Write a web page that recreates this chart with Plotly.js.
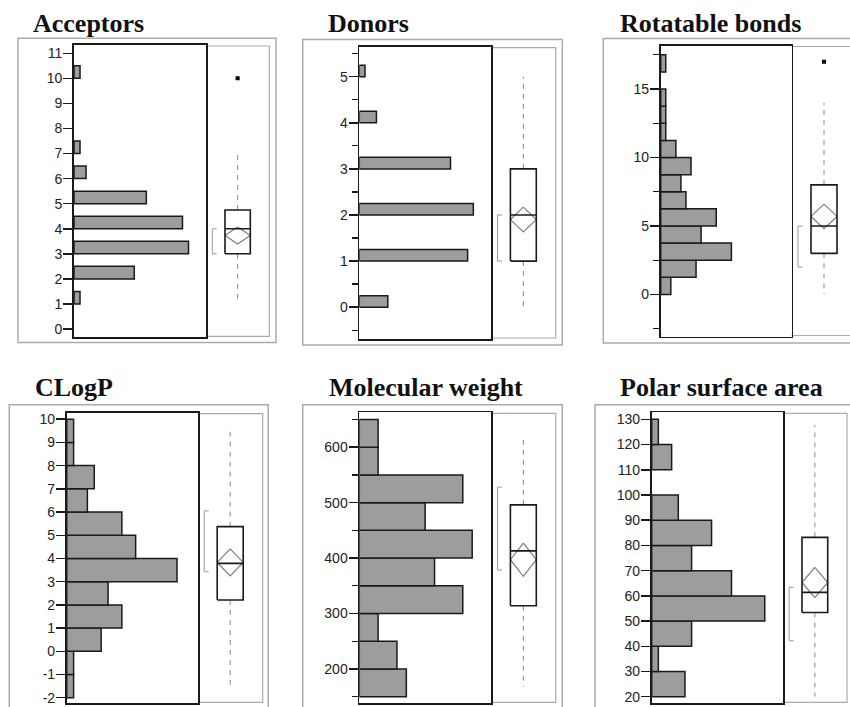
<!DOCTYPE html>
<html>
<head>
<meta charset="utf-8">
<script src="https://cdn.plot.ly/plotly-3.0.1.min.js"></script>
<style>
  html, body { margin: 0; padding: 0; background: #fff; }
  #chart { width: 850px; height: 707px; }
</style>
</head>
<body>
<div id="chart"></div>
<script>
// ---- Panel titles ----
const titles = ['Acceptors', 'Donors', 'Rotatable bonds', 'CLogP', 'Molecular weight', 'Polar surface area'];

// ---- Histogram bins (lower edge of each bar) and counts ----
const acceptorBins = [1, 2, 3, 4, 5, 6, 7, 10];
const acceptorCounts = [1, 10, 19, 18, 12, 2, 1, 1];
const donorBins = [0, 1, 2, 3, 4, 5];
const donorCounts = [5, 19, 20, 16, 3, 1];
const rotBins = [0, 1.25, 2.5, 3.75, 5, 6.25, 7.5, 8.75, 10, 11.25, 12.5, 13.75, 16.25];
const rotCounts = [2, 7, 14, 8, 11, 5, 4, 6, 3, 1, 1, 1, 1];
const clogpBins = [-2, -1, 0, 1, 2, 3, 4, 5, 6, 7, 8, 9];
const clogpCounts = [1, 1, 5, 8, 6, 16, 10, 8, 3, 4, 1, 1];
const mwBins = [150, 200, 250, 300, 350, 400, 450, 500, 550, 600];
const mwCounts = [5, 4, 2, 11, 8, 12, 7, 11, 2, 2];
const psaBins = [20, 30, 40, 50, 60, 70, 80, 90, 110, 120];
const psaCounts = [5, 1, 6, 17, 12, 6, 9, 4, 3, 1];
const binWidths = [0.5, 0.25, 1.25, 1, 50, 10];

// ---- Axis tick labels ----
const acceptorTicks = [0, 1, 2, 3, 4, 5, 6, 7, 8, 9, 10, 11];
const donorTicks = [0, 1, 2, 3, 4, 5];
const donorMinorTicks = [-0.5, 0.5, 1.5, 2.5, 3.5, 4.5, 5.5];
const rotTicks = [0, 5, 10, 15];
const rotMinorTicks = [-2.5, 2.5, 7.5, 12.5, 17.5];
const clogpTicks = [-2, -1, 0, 1, 2, 3, 4, 5, 6, 7, 8, 9, 10];
const clogpTickText = ['-2', '-1', '0', '1', '2', '3', '4', '5', '6', '7', '8', '9', '10'];
const mwTicks = [200, 300, 400, 500, 600];
const mwMinorTicks = [150, 250, 350, 450, 550, 650];
const psaTicks = [20, 30, 40, 50, 60, 70, 80, 90, 100, 110, 120, 130];

// ---- Box plot summaries (one entry per panel) ----
const whiskerLow = [1, 0, 0, -1.45, 168, 20];
const quartile1 = [3, 1, 3, 2.21, 314, 53.4];
const medians = [4, 2, 5, 3.79, 413, 61.4];
const quartile3 = [4.75, 3, 8, 5.37, 496, 83.2];
const whiskerHigh = [7, 5, 14, 9.66, 622, 127.7];
const means = [3.73, 1.9, 5.7, 3.83, 397, 65.3];
const meanCI = [0.34, 0.27, 0.9, 0.58, 30, 6];
const shortestHalfLow = [3, 1, 2, 3.43, 378.5, 42.2];
const shortestHalfHigh = [4, 2, 5, 6.05, 528, 63.4];
const outliers = [[10], [], [17], [], [], []];

// ---- Assemble per-panel inputs ----
const binsAll = [acceptorBins, donorBins, rotBins, clogpBins, mwBins, psaBins];
const countsAll = [acceptorCounts, donorCounts, rotCounts, clogpCounts, mwCounts, psaCounts];
const majorTicks = [acceptorTicks, donorTicks, rotTicks, clogpTicks, mwTicks, psaTicks];
const majorText = [null, null, null, clogpTickText, null, null];
const minorTicks = [null, donorMinorTicks, rotMinorTicks, null, mwMinorTicks, null];

// ---- Page geometry (pixels) ----
const W = 850, H = 707;
const geom = [
  { hist: [74, 206, 45, 337.3],     box: [206, 269.3],   outer: [18, 276, 38.3, 342.5],     yRange: [-0.33, 11.33], cMax: 21.9, title: [31, 40] },
  { hist: [359.3, 491, 46.7, 339],  box: [491, 555.7],   outer: [302.7, 562.3, 39.5, 345],  yRange: [-0.69, 5.65],  cMax: 23.1, title: [326, 40] },
  { hist: [660.7, 791.5, 45.5, 336.5], box: [791.5, 856.5], outer: [603.3, 880, 38.5, 343], yRange: [-3.07, 18.18], cMax: 25.9, title: [618, 40] },
  { hist: [66.7, 197.7, 412.7, 703.3], box: [197.7, 262.7], outer: [9.3, 268.3, 404.7, 730], yRange: [-2.24, 10.28], cMax: 19.0, title: [33, 404] },
  { hist: [359.3, 491, 412.3, 703.3], box: [491, 555.7], outer: [302.7, 562.3, 404.7, 730], yRange: [138, 663],     cMax: 14.0, title: [327, 404] },
  { hist: [651.7, 782.7, 412.3, 703.3], box: [782.7, 847], outer: [595, 880, 404.7, 730],  yRange: [17.4, 132.8],  cMax: 19.7, title: [618, 404] }
];

const px = x => x / W;
const py = y => 1 - y / H;
const axKey = (t, n) => (n === 1 ? t + 'axis' : t + 'axis' + n);
const axRef = (t, n) => (n === 1 ? t : t + n);

const INK = '#1a1a1a';
const FRAME = '#ababab';
const GRAY_MARK = '#7d7d7d';

const traces = [];
const layout = {
  width: W, height: H,
  margin: { l: 0, r: 0, t: 0, b: 0 },
  paper_bgcolor: '#fff', plot_bgcolor: 'rgba(0,0,0,0)',
  showlegend: false, hovermode: false,
  shapes: [], annotations: []
};

geom.forEach((g, i) => {
  const hx = i + 1, bx = i + 7, yy = i + 1;
  const yDomain = [py(g.hist[3]), py(g.hist[2])];

  // Outer light frame around the whole panel
  layout.shapes.push({
    type: 'rect', xref: 'paper', yref: 'paper', layer: 'below',
    x0: px(g.outer[0]), x1: px(g.outer[1]), y0: py(g.outer[3]), y1: py(g.outer[2]),
    line: { color: FRAME, width: 1.5 }
  });
  // Light frame around the box-plot strip (top, right, bottom)
  layout.shapes.push({
    type: 'path', xref: 'paper', yref: 'paper', layer: 'below',
    path: `M ${px(g.box[0])} ${py(g.hist[2] + 1)} L ${px(g.box[1])} ${py(g.hist[2] + 1)} ` +
          `L ${px(g.box[1])} ${py(g.hist[3] - 1)} L ${px(g.box[0])} ${py(g.hist[3] - 1)}`,
    line: { color: FRAME, width: 1.2 }
  });

  // Title
  layout.annotations.push({
    xref: 'paper', yref: 'paper', x: px(g.title[0]), y: py(g.title[1]),
    xanchor: 'left', yanchor: 'bottom', showarrow: false,
    text: '<b>' + titles[i] + '</b>',
    font: { family: 'Liberation Serif, Times New Roman, serif', size: 26, color: '#111' }
  });

  // Histogram axes
  layout[axKey('x', hx)] = {
    domain: [px(g.hist[0]), px(g.hist[1])], range: [0, g.cMax], anchor: axRef('y', yy),
    showline: true, mirror: true, linecolor: INK, linewidth: 1.6,
    ticks: '', showticklabels: false, showgrid: false, zeroline: false, fixedrange: true
  };
  const yAxis = {
    domain: yDomain, range: g.yRange, anchor: axRef('x', hx),
    showline: true, mirror: true, linecolor: INK, linewidth: 1.8,
    showgrid: false, zeroline: false, fixedrange: true,
    tickmode: 'array', tickvals: majorTicks[i],
    ticks: 'outside', ticklen: 9, tickwidth: 1.5, tickcolor: INK,
    ticklabelstandoff: -2,
    tickfont: { family: 'Liberation Sans, Arial, sans-serif', size: 14, color: '#222' }
  };
  if (majorText[i]) yAxis.ticktext = majorText[i];
  if (minorTicks[i]) {
    yAxis.minor = { tickmode: 'array', tickvals: minorTicks[i], ticks: 'outside', ticklen: 6, tickwidth: 1.3, tickcolor: INK, showgrid: false };
  }
  layout[axKey('y', yy)] = yAxis;

  // Box-plot strip axis (0..1 across the strip; may run past the page edge)
  const visRight = Math.min(g.box[1], W);
  layout[axKey('x', bx)] = {
    domain: [px(g.box[0]), px(visRight)],
    range: [0, (visRight - g.box[0]) / (g.box[1] - g.box[0])],
    anchor: axRef('y', yy), visible: false, fixedrange: true
  };

  const xr = axRef('x', hx), yr = axRef('y', yy), br = axRef('x', bx);

  // Histogram bars
  traces.push({
    type: 'bar', orientation: 'h', xaxis: xr, yaxis: yr,
    x: countsAll[i], y: binsAll[i], width: binWidths[i], offset: 0,
    marker: { color: '#9d9d9d', line: { color: INK, width: 1.5 } }
  });

  // Box plot pieces
  const c = 0.5, hw = 0.2;
  const lo = whiskerLow[i], q1 = quartile1[i], md = medians[i], q3 = quartile3[i], hi = whiskerHigh[i];
  const mu = means[i], ci = meanCI[i];

  // whiskers (dashed)
  traces.push({
    type: 'scatter', mode: 'lines', xaxis: br, yaxis: yr,
    x: [c, c, null, c, c], y: [q3, hi, null, q1, lo],
    line: { color: '#8a8a8a', width: 1, dash: '5px,5px' }
  });
  // shortest-half bracket
  traces.push({
    type: 'scatter', mode: 'lines', xaxis: br, yaxis: yr,
    x: [0.17, 0.1, 0.1, 0.17], y: [shortestHalfHigh[i], shortestHalfHigh[i], shortestHalfLow[i], shortestHalfLow[i]],
    line: { color: '#9a9a9a', width: 1 }
  });
  // mean diamond
  traces.push({
    type: 'scatter', mode: 'lines', xaxis: br, yaxis: yr,
    x: [c, c + hw, c, c - hw, c], y: [mu + ci, mu, mu - ci, mu, mu + ci],
    line: { color: GRAY_MARK, width: 1.2 }
  });
  // quantile box
  traces.push({
    type: 'scatter', mode: 'lines', xaxis: br, yaxis: yr,
    x: [c - hw, c + hw, c + hw, c - hw, c - hw], y: [q1, q1, q3, q3, q1],
    line: { color: INK, width: 1.6 }
  });
  // median
  traces.push({
    type: 'scatter', mode: 'lines', xaxis: br, yaxis: yr,
    x: [c - hw, c + hw], y: [md, md],
    line: { color: INK, width: 1.6 }
  });
  // outliers
  if (outliers[i].length) {
    traces.push({
      type: 'scatter', mode: 'markers', xaxis: br, yaxis: yr,
      x: outliers[i].map(() => c), y: outliers[i],
      marker: { symbol: 'square', size: 4, color: '#000' }
    });
  }
});

Plotly.newPlot('chart', traces, layout, { staticPlot: true, displayModeBar: false });
</script>
</body>
</html>
